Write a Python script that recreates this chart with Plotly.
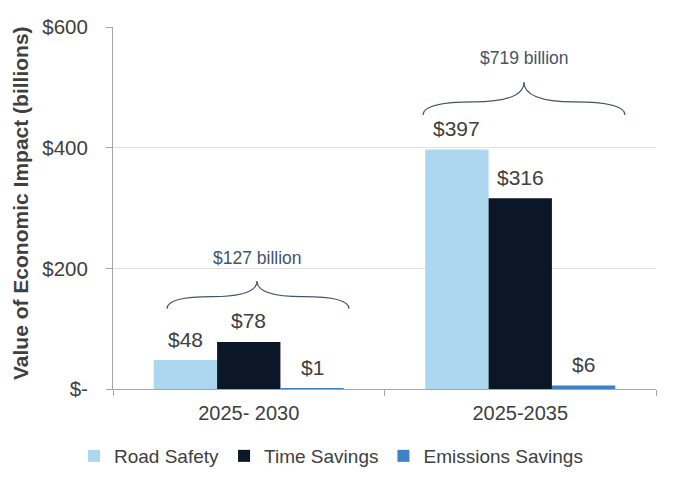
import plotly.graph_objects as go

categories = ["2025- 2030", "2025-2035"]
road_safety = [48, 397]
time_savings = [78, 316]
emissions_savings = [1, 6]
series_names = ["Road Safety", "Time Savings", "Emissions Savings"]
series_colors = ["#acd7ee", "#0b1727", "#3d82c4"]
totals_text = ["$127 billion", "$719 billion"]
y_tick_vals = [0, 200, 400, 600]
y_tick_text = ["$-", "$200", "$400", "$600"]

FONT = "Liberation Sans, Arial, Helvetica, sans-serif"
TXT = "#404040"
BRACE = "#44546a"

# layout geometry (pixels); the page body adds an 8px offset
OFF = 8
W_FIG, H_FIG = 683, 503
PLOT_L, PLOT_R, PLOT_T, PLOT_B = 113, 656, 27, 389   # on-screen plot box
M_L, M_T = PLOT_L - OFF, PLOT_T - OFF
M_R = W_FIG - (PLOT_R - OFF)
M_B = H_FIG - (PLOT_B - OFF)
PLOT_W = PLOT_R - PLOT_L
PLOT_H = PLOT_B - PLOT_T
BARGAP = 0.3
N_SERIES = 3
bar_px = PLOT_W / len(categories) * (1 - BARGAP) / N_SERIES


def px(p):
    return (p - PLOT_L) / PLOT_W


def py(p):
    return (PLOT_B - p) / PLOT_H


fig = go.Figure()
all_series = [road_safety, time_savings, emissions_savings]
for i, (name, vals, col) in enumerate(zip(series_names, all_series, series_colors)):
    fig.add_trace(go.Bar(
        name=name, x=categories, y=vals, marker=dict(color=col, line=dict(width=0)),
    ))
    for cat, v in zip(categories, vals):
        fig.add_annotation(x=cat, y=v, xref="x", yref="y", text=f"${v}", showarrow=False,
                           xshift=(i - (N_SERIES - 1) / 2) * bar_px, yshift=21,
                           xanchor="center", yanchor="middle",
                           font=dict(size=21, color=TXT, family=FONT))


# Curly braces above each group (x in paper coords, y in data coords)
def brace(x0, x1, xm, y0, y1, y2):
    qa = (x0 + xm) / 2
    qb = (xm + x1) / 2
    return (f"M {x0},{y0} Q {x0},{y1} {qa},{y1} Q {xm},{y1} {xm},{y2} "
            f"Q {xm},{y1} {qb},{y1} Q {x1},{y1} {x1},{y0}")


braces = [
    (px(167), px(349), px(257), 133, 153, 179, 217),
    (px(423), px(625), px(524), 454, 476, 509, 549),
]
for (x0, x1, xm, y0, y1, y2, yt), t in zip(braces, totals_text):
    fig.add_shape(type="path", path=brace(x0, x1, xm, y0, y1, y2), xref="paper", yref="y",
                  line=dict(color=BRACE, width=1.2))
    fig.add_annotation(x=xm, y=yt, xref="paper", yref="y", text=t, showarrow=False,
                       xanchor="center", yanchor="middle",
                       font=dict(size=17.5, color=BRACE, family=FONT))

# y-axis title
fig.add_annotation(x=px(20), y=py(203), xref="paper", yref="paper", textangle=-90,
                   xanchor="center", yanchor="middle",
                   text="<b>Value of Economic Impact (billions)</b>", showarrow=False,
                   font=dict(size=21, color=TXT, family=FONT))

fig.update_layout(
    width=W_FIG, height=H_FIG,
    margin=dict(l=M_L, r=M_R, t=M_T, b=M_B, autoexpand=False),
    paper_bgcolor="white", plot_bgcolor="white",
    barmode="group", bargap=BARGAP, bargroupgap=0,
    font=dict(family=FONT, color=TXT),
    showlegend=True,
    legend=dict(orientation="h", x=px(74), xanchor="left",
                y=py(456), yanchor="middle",
                font=dict(size=19, color=TXT, family=FONT), itemwidth=30,
                traceorder="normal"),
)
fig.update_xaxes(
    type="category", showline=True, linecolor="#a6a6a6", linewidth=1,
    ticks="outside", tickson="boundaries", ticklen=6, tickcolor="#a6a6a6",
    tickfont=dict(size=20, color=TXT, family=FONT), showgrid=False,
    automargin=False, ticklabelstandoff=6,
)
fig.update_yaxes(
    range=[0, 600], tickvals=y_tick_vals, ticktext=y_tick_text,
    showline=True, linecolor="#a6a6a6", linewidth=1,
    ticks="outside", ticklen=6, tickcolor="#a6a6a6",
    showgrid=True, gridcolor="#e3e3e3", gridwidth=1, zeroline=False,
    tickfont=dict(size=20.5, color=TXT, family=FONT),
    automargin=False, ticklabelstandoff=14,
)
fig.write_html("out.html")
